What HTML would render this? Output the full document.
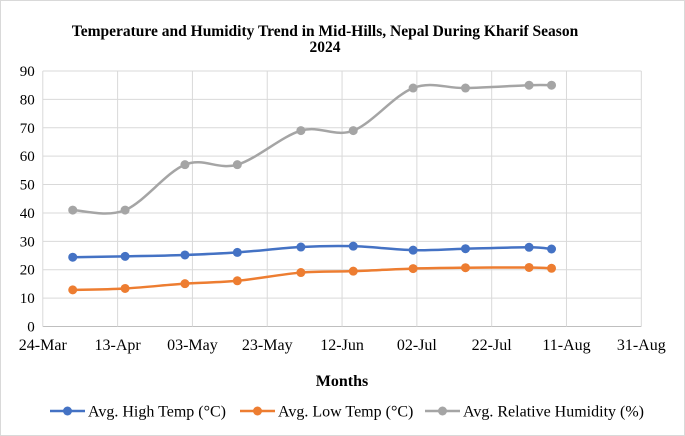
<!DOCTYPE html>
<html><head><meta charset="utf-8"><style>
html,body{margin:0;padding:0;background:#fff}
svg{display:block;font-family:"Liberation Serif",serif}
</style></head><body>
<svg width="685" height="436" viewBox="0 0 685 436">
<rect x="0.5" y="0.5" width="684" height="435" fill="#fff" stroke="#d9d9d9"/>
<text x="325" y="36" text-anchor="middle" font-size="15.5" font-weight="bold">Temperature and Humidity Trend in Mid-Hills, Nepal During Kharif Season</text>
<text x="325" y="52" text-anchor="middle" font-size="15.5" font-weight="bold">2024</text>
<g id="grid"></g>
<g id="axes"></g>
<g id="series"></g>
<text x="342" y="386" text-anchor="middle" font-size="16" font-weight="bold">Months</text>
<g id="legend"></g>
</svg>
<script>
const xTickLabels=["24-Mar","13-Apr","03-May","23-May","12-Jun","02-Jul","22-Jul","11-Aug","31-Aug"];
const yTicks=[0,10,20,30,40,50,60,70,80,90];
const dayOffsets=[8,22,38,52,69,83,99,113,130,136];
const highTemp=[24.4,24.7,25.2,26.1,28,28.3,26.9,27.4,27.9,27.3];
const lowTemp=[12.9,13.4,15.1,16.1,19,19.5,20.4,20.7,20.8,20.5];
const humidity=[41,41,57,57,69,69,84,84,85,85];
const seriesNames=["Avg. High Temp (°C)","Avg. Low Temp (°C)","Avg. Relative Humidity (%)"];

const NS="http://www.w3.org/2000/svg";
const X0=42.8,X1=641.3,Y0=326.5,Y1=71;
const xs=d=>X0+(X1-X0)*d/160;
const ys=v=>Y0-(Y0-Y1)*v/90;
function mk(tag,attrs,parent){const e=document.createElementNS(NS,tag);for(const k in attrs)e.setAttribute(k,attrs[k]);parent.appendChild(e);return e;}
const grid=document.getElementById('grid'),axes=document.getElementById('axes'),series=document.getElementById('series'),legend=document.getElementById('legend');
yTicks.forEach(v=>{
  const l=mk('line',{x1:X0,x2:X1,y1:ys(v),y2:ys(v),stroke:v===0?'#bfbfbf':'#d9d9d9','stroke-width':1},grid);
  
  
  const t=mk('text',{x:X0-8,y:ys(v)+5,'text-anchor':'end','font-size':15},axes);
  t.textContent=v;
  
  
});
xTickLabels.forEach((s,i)=>{
  const x=xs(i*20);
  const l=mk('line',{x1:x,x2:x,y1:Y1,y2:Y0,stroke:'#d9d9d9','stroke-width':1},grid);
  
  
  const t=mk('text',{x:x,y:350,'text-anchor':'middle','font-size':16},axes);
  t.textContent=s;
  
  
});
function smooth(pts){
  let d=`M${pts[0][0]},${pts[0][1]}`;
  for(let i=0;i<pts.length-1;i++){
    const p0=pts[i-1]||pts[i],p1=pts[i],p2=pts[i+1],p3=pts[i+2]||p2;
    const t=1/6;
    d+=` C${p1[0]+(p2[0]-p0[0])*t},${p1[1]+(p2[1]-p0[1])*t} ${p2[0]-(p3[0]-p1[0])*t},${p2[1]-(p3[1]-p1[1])*t} ${p2[0]},${p2[1]}`;
  }
  return d;
}
const colors=["#4472c4","#ed7d31","#a5a5a5"];
const names=["high-temp","low-temp","humidity"];
[highTemp,lowTemp,humidity].forEach((arr,si)=>{
  const pts=arr.map((v,i)=>[xs(dayOffsets[i]),ys(v)]);
  const p=mk('path',{d:smooth(pts),fill:'none',stroke:colors[si],'stroke-width':2.5},series);
  
  
  pts.forEach(q=>{
    const c=mk('circle',{cx:q[0],cy:q[1],r:4.5,fill:colors[si]},series);
    
    
  });
});
const legX=[50,240,425];
seriesNames.forEach((s,i)=>{
  const g=mk('g',{},legend);
  
  
  mk('line',{x1:legX[i],x2:legX[i]+35,y1:411,y2:411,stroke:colors[i],'stroke-width':2.5},g);
  mk('circle',{cx:legX[i]+17.5,cy:411,r:4.5,fill:colors[i]},g);
  const t=mk('text',{x:legX[i]+38,y:416.5,'font-size':16},g);
  t.textContent=s;
});
</script>
</body></html>
